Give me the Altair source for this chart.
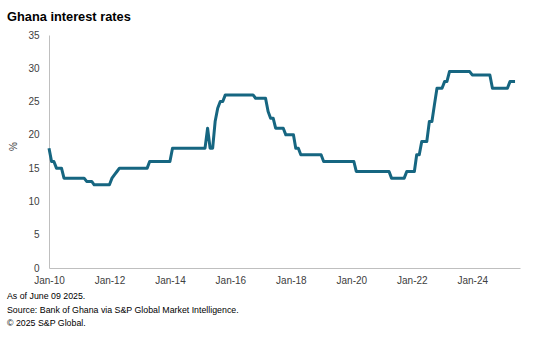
import altair as alt
import pandas as pd

months = [
    "2010-01", "2010-02", "2010-03", "2010-04", "2010-06", "2010-07",
    "2011-03", "2011-04", "2011-06", "2011-07",
    "2012-01", "2012-02", "2012-03", "2012-04", "2012-05",
    "2013-04", "2013-05", "2014-01", "2014-02",
    "2015-03", "2015-04", "2015-05", "2015-06", "2015-07", "2015-08",
    "2015-09", "2015-10", "2015-11",
    "2016-10", "2016-11", "2017-03", "2017-04", "2017-05", "2017-06",
    "2017-07", "2017-10", "2017-11", "2018-02", "2018-03", "2018-04",
    "2018-05", "2019-01", "2019-02", "2020-02", "2020-03",
    "2021-04", "2021-05", "2021-10", "2021-11", "2022-02", "2022-03",
    "2022-04", "2022-05", "2022-07", "2022-08", "2022-09", "2022-10",
    "2022-11", "2023-01", "2023-02", "2023-03", "2023-04", "2023-12",
    "2024-01", "2024-08", "2024-09", "2025-03", "2025-04", "2025-06",
]
rates = [
    18, 16, 16, 15, 15, 13.5,
    13.5, 13, 13, 12.5,
    12.5, 13.5, 14, 14.5, 15,
    15, 16, 16, 18,
    18, 21, 18, 18, 22, 24,
    25, 25, 26,
    26, 25.5, 25.5, 23.5, 22.5, 22.5,
    21, 21, 20, 20, 18, 18,
    17, 17, 16, 16, 14.5,
    14.5, 13.5, 13.5, 14.5, 14.5, 17,
    17, 19, 19, 22, 22, 24.5,
    27, 27, 28, 28, 29.5, 29.5,
    29, 29, 27, 27, 28, 28,
]

tick_years = [2010, 2012, 2014, 2016, 2018, 2020, 2022, 2024]
y_ticks = [0, 5, 10, 15, 20, 25, 30, 35]

chart_title = "Ghana interest rates"
footnotes = [
    "As of June 09 2025.",
    "Source: Bank of Ghana via S&P Global Market Intelligence.",
    "\u00a9 2025 S&P Global.",
]

FONT = "Liberation Sans"
LINE_COLOR = "#166681"
LABEL_COLOR = "#404040"
AXIS_COLOR = "#bfbfbf"

df = pd.DataFrame({"date": [m + "-01" for m in months], "rate": rates})

W, H = 471, 233

line = alt.Chart(df).mark_line(
    color=LINE_COLOR, strokeWidth=3, strokeJoin="round"
).encode(
    x=alt.X(
        "date:T",
        scale=alt.Scale(
            type="utc",
            domain=[
                alt.DateTime(year=2010, month=1, date=1, utc=True),
                alt.DateTime(year=2025, month=7, date=31, utc=True),
            ],
        ),
        axis=alt.Axis(
            values=[alt.DateTime(year=y, month=1, date=1, utc=True) for y in tick_years],
            labelExpr="utcFormat(datum.value, '%b-%y')",
            title=None,
            grid=False,
            ticks=False,
            domainColor=AXIS_COLOR,
            labelFlush=False,
            labelOverlap=False,
            labelPadding=7,
        ),
    ),
    y=alt.Y(
        "rate:Q",
        scale=alt.Scale(domain=[0, 35], nice=False, zero=True),
        axis=alt.Axis(
            values=y_ticks,
            title="%",
            grid=False,
            ticks=False,
            domainColor=AXIS_COLOR,
            labelPadding=10,
            titleX=-31,
            titleY=111,
            titleFontWeight="normal",
            titleFontSize=10,
            titleColor=LABEL_COLOR,
            titleAngle=-90,
        ),
    ),
)

title_layer = alt.Chart(pd.DataFrame({"t": [chart_title]})).mark_text(
    align="left", baseline="alphabetic", font=FONT, fontSize=12.8,
    fontWeight="bold", color="#000000"
).encode(text="t:N", x=alt.value(-42), y=alt.value(-14))

foot_layers = []
for i, line_text in enumerate(footnotes):
    foot_layers.append(
        alt.Chart(pd.DataFrame({"t": [line_text]})).mark_text(
            align="left", baseline="alphabetic", font=FONT, fontSize=8.8,
            color="#000000"
        ).encode(text="t:N", x=alt.value(-42), y=alt.value(264 + 13.5 * i))
    )

chart = alt.layer(line, title_layer, *foot_layers).properties(
    width=W,
    height=H,
    autosize=alt.AutoSizeParams(type="none"),
    padding={"left": 49, "top": 35, "right": 25, "bottom": 74},
    background="white",
).configure_view(stroke=None).configure_axis(
    labelFont=FONT, labelFontSize=10, labelColor=LABEL_COLOR,
    titleFont=FONT,
)

chart.save("out.html", embed_options={"renderer": "svg", "actions": False})
